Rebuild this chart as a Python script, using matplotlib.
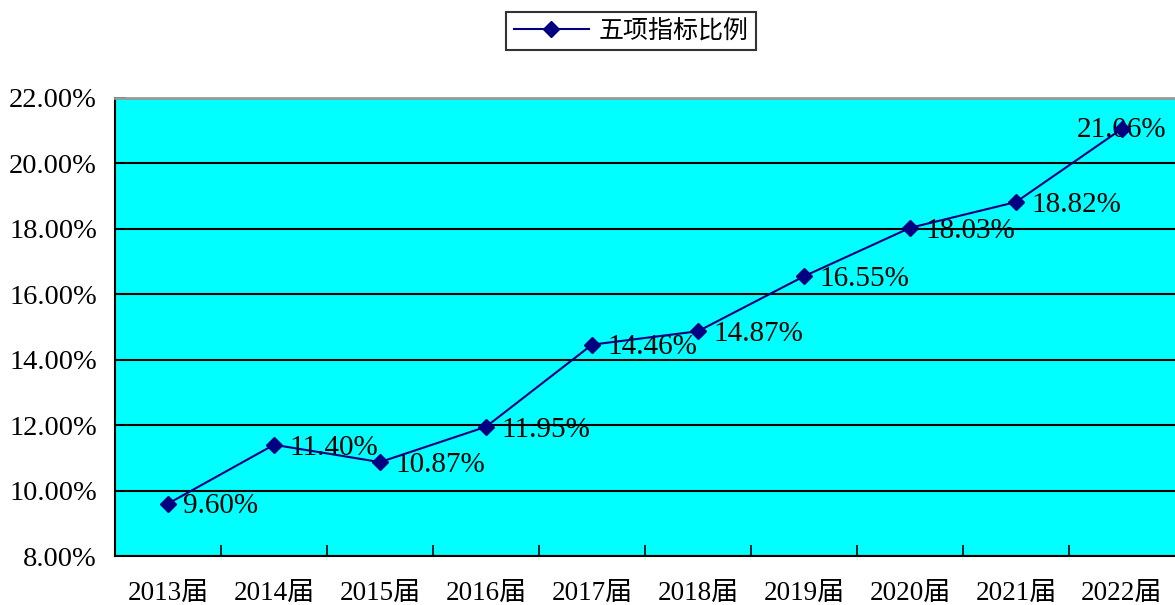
import matplotlib.pyplot as plt
from matplotlib.ticker import FixedLocator, FuncFormatter

categories = ['2013届', '2014届', '2015届', '2016届', '2017届',
              '2018届', '2019届', '2020届', '2021届', '2022届']
ratio = [9.60, 11.40, 10.87, 11.95, 14.46, 14.87, 16.55, 18.03, 18.82, 21.06]
series_name = '五项指标比例'

plt.rcParams['font.family'] = ['Liberation Serif', 'Noto Sans CJK SC']

fig = plt.figure(figsize=(11.75, 6.05), dpi=100)
ax = fig.add_axes([115 / 1175, 49 / 605, 1 - 115 / 1175, 458 / 605])
ax.set_facecolor('#00FFFF')

x = list(range(len(categories)))
ax.plot(x, ratio, color='#000080', lw=1.5, marker='D', ms=8.5,
        mfc='#000080', mec='#000080', zorder=4, label=series_name)

for xi, v in zip(x, ratio):
    # the last label does not fit to the right, so it sits centred on its point
    if xi == x[-1]:
        off, ha = (0, -1), 'center'
    else:
        off, ha = (11, -2), 'left'
    ax.annotate(f'{v:.2f}%', (xi, v), xytext=off, textcoords='offset points',
                ha=ha, va='center', fontsize=21, color='black', zorder=3)

ax.set_xlim(-0.5, len(categories) - 0.5)
ax.set_ylim(8, 22)
ax.set_yticks(range(8, 23, 2))
ax.yaxis.set_major_formatter(FuncFormatter(lambda v, p: f'{v:.2f}%'))
ax.grid(axis='y', color='black', lw=1.5)
ax.set_axisbelow(True)

ax.set_xticks(x)
ax.set_xticklabels(categories)
ax.xaxis.set_minor_locator(FixedLocator([i + 0.5 for i in x[:-1]]))
ax.tick_params(axis='x', which='major', length=0, pad=18, labelsize=19.5)
ax.tick_params(axis='x', which='minor', direction='in', length=8, width=1.2)
ax.tick_params(axis='y', direction='in', length=8, width=1.2, pad=13, labelsize=20.5)

ax.spines['top'].set_color('#999999')
ax.spines['top'].set_linewidth(2)
ax.spines['right'].set_visible(False)
ax.spines['left'].set_linewidth(1.5)
ax.spines['bottom'].set_linewidth(1.5)

leg = fig.legend(loc='center', bbox_to_anchor=(631 / 1175, 1 - 31 / 605),
                 fontsize=18, frameon=True, fancybox=False, edgecolor='black',
                 handlelength=3.0, handletextpad=0.4, borderpad=0.3)
leg.get_frame().set_linewidth(1.5)

fig.savefig('out.png', dpi=100)
